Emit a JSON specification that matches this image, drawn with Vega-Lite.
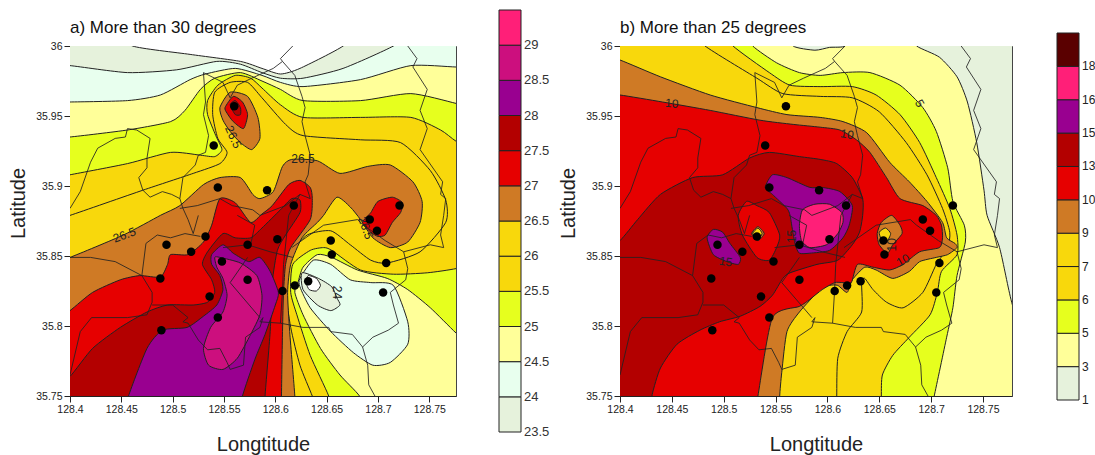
{"$schema":"https://vega.github.io/schema/vega-lite/v6.json","background":"white","padding":{"left":7,"top":9,"right":0,"bottom":0},"resolve":{"scale":{"fill":"independent"}},"hconcat":[
{"width":386,"height":350,"title":{"text":"a) More than 30 degrees","anchor":"start","frame":"group","offset":4,"fontSize":17,"fontWeight":"normal","font":"Liberation Sans","color":"#111"},
"layer":[
{"data":{"name":"panelA"},"mark":{"type":"line","stroke":"#222","strokeWidth":1,"interpolate":"cardinal-closed","tension":0.35,"clip":true},"encoding":{"x":{"field":"lon","type":"quantitative","scale":{"domain":[128.4,128.776],"nice":false,"zero":false},"axis":{"values":[128.4,128.45,128.5,128.55,128.6,128.65,128.7,128.75],"format":".2~f","title":"Longtitude","titleFontSize":20,"titleFontWeight":"normal","titleFont":"Liberation Sans","titleColor":"#222","titlePadding":20,"labelFont":"Liberation Sans","labelFontSize":10.5,"labelColor":"#222","grid":false,"tickSize":6,"tickColor":"#222","domainColor":"#222","labelOverlap":false,"labelFlush":false}},"y":{"field":"lat","type":"quantitative","scale":{"domain":[35.75,36],"nice":false,"zero":false},"axis":{"values":[35.75,35.8,35.85,35.9,35.95,36],"format":".2~f","title":"Latitude","titleFontSize":20,"titleFontWeight":"normal","titleFont":"Liberation Sans","titleColor":"#222","titleX":-42,"titleY":157,"labelFont":"Liberation Sans","labelFontSize":10.5,"labelColor":"#222","grid":false,"tickSize":6,"tickColor":"#222","domainColor":"#222","labelOverlap":false,"labelFlush":false}},"order":{"value":null},"fill":{"field":"poly","type":"nominal","legend":null,"scale":{"domain":["base","le26","le25.5n","le25.5s","le25n","le25s","le24.5n","le24.5s","le24n","le24s","le23.5n","le23.5s","ge26.5","ge27","ge27.5","ge28","ge28.5","peak26.5","peak27","peak27.5","lobe27"],"range":["#F8D80C","#F8D80C","#E6FF1E","#E6FF1E","#FFFF99","#FFFF99","#E8FFEE","#E8FFEE","#E6F2DC","#E6F2DC","#FFFFFF","#FFFFFF","#CF7A25","#E60000","#B30000","#990090","#CC0F7E","#CF7A25","#E60000","#B30000","#E60000"]}}}},
{"data":{"name":"districts"},"mark":{"type":"line","stroke":"#222","strokeWidth":1,"clip":true,"opacity":0.85},"encoding":{"x":{"field":"lon","type":"quantitative"},"y":{"field":"lat","type":"quantitative"},"order":{"value":null},"detail":{"field":"d"}}},
{"data":{"name":"labelsA"},"mark":{"type":"text","font":"Liberation Sans","fontSize":12,"color":"#222"},"encoding":{"x":{"field":"lon","type":"quantitative"},"y":{"field":"lat","type":"quantitative"},"text":{"field":"text"},"angle":{"field":"slope","type":"quantitative","scale":null}}},
{"data":{"name":"stations"},"mark":{"type":"circle","size":72,"color":"#000","opacity":1},"encoding":{"x":{"field":"lon","type":"quantitative"},"y":{"field":"lat","type":"quantitative"}}}
]},
{"width":164,"height":350,"view":{"stroke":null},"data":{"name":"legendA"},"layer":[
{"mark":{"type":"rect","stroke":"#222","strokeWidth":1},"encoding":{"y":{"field":"rank","type":"quantitative","axis":null,"scale":{"domain":[0,12],"range":[386,-36],"nice":false,"zero":false}},"y2":{"field":"rank2"},"x":{"datum":0,"type":"quantitative","axis":null,"scale":{"domain":[0,1],"range":[43,65]}},"x2":{"datum":1},"fill":{"field":"band","type":"nominal","legend":null,"sort":null,"scale":{"domain":["23.5-24","24-24.5","24.5-25","25-25.5","25.5-26","26-26.5","26.5-27","27-27.5","27.5-28","28-28.5","28.5-29","29+"],"range":["#E6F2DC","#E8FFEE","#FFFF99","#E6FF1E","#F8D80C","#F8D80C","#CF7A25","#E60000","#B30000","#990090","#CC0F7E","#FF1F78"]}}}},
{"mark":{"type":"text","align":"left","dx":3,"font":"Liberation Sans","fontSize":13,"color":"#333"},"encoding":{"y":{"field":"rank","type":"quantitative","axis":null},"x":{"datum":1,"type":"quantitative","axis":null},"text":{"field":"label"}}}
]},
{"width":392,"height":350,"title":{"text":"b) More than 25 degrees","anchor":"start","frame":"group","offset":4,"fontSize":17,"fontWeight":"normal","font":"Liberation Sans","color":"#111"},
"layer":[
{"data":{"name":"panelB"},"mark":{"type":"line","stroke":"#222","strokeWidth":1,"interpolate":"cardinal-closed","tension":0.35,"clip":true},"encoding":{"x":{"field":"lon","type":"quantitative","scale":{"domain":[128.4,128.778],"nice":false,"zero":false},"axis":{"values":[128.4,128.45,128.5,128.55,128.6,128.65,128.7,128.75],"format":".2~f","title":"Longtitude","titleFontSize":20,"titleFontWeight":"normal","titleFont":"Liberation Sans","titleColor":"#222","titlePadding":20,"labelFont":"Liberation Sans","labelFontSize":10.5,"labelColor":"#222","grid":false,"tickSize":6,"tickColor":"#222","domainColor":"#222","labelOverlap":false,"labelFlush":false}},"y":{"field":"lat","type":"quantitative","scale":{"domain":[35.75,36],"nice":false,"zero":false},"axis":{"values":[35.75,35.8,35.85,35.9,35.95,36],"format":".2~f","title":"Latitude","titleFontSize":20,"titleFontWeight":"normal","titleFont":"Liberation Sans","titleColor":"#222","titleX":-42,"titleY":157,"labelFont":"Liberation Sans","labelFontSize":10.5,"labelColor":"#222","grid":false,"tickSize":6,"tickColor":"#222","domainColor":"#222","labelOverlap":false,"labelFlush":false}},"order":{"value":null},"fill":{"field":"poly","type":"nominal","legend":null,"scale":{"domain":["base","top1","ge3","ge5","ge6","ge7","ge9","ge10","ge13","red west","ring west","core west","ring east","core east","ge15","ge16","ge15 west"],"range":["#E6F2DC","#E6F2DC","#FFFF99","#E6FF1E","#F8D80C","#F8D80C","#CF7A25","#E60000","#B30000","#E60000","#CF7A25","#F8D80C","#CF7A25","#F8D80C","#990090","#FF1F78","#990090"]}}}},
{"data":{"name":"districts"},"mark":{"type":"line","stroke":"#222","strokeWidth":1,"clip":true,"opacity":0.85},"encoding":{"x":{"field":"lon","type":"quantitative"},"y":{"field":"lat","type":"quantitative"},"order":{"value":null},"detail":{"field":"d"}}},
{"data":{"name":"labelsB"},"mark":{"type":"text","font":"Liberation Sans","fontSize":12,"color":"#222"},"encoding":{"x":{"field":"lon","type":"quantitative"},"y":{"field":"lat","type":"quantitative"},"text":{"field":"text"},"angle":{"field":"slope","type":"quantitative","scale":null}}},
{"data":{"name":"stations"},"mark":{"type":"circle","size":72,"color":"#000","opacity":1},"encoding":{"x":{"field":"lon","type":"quantitative"},"y":{"field":"lat","type":"quantitative"}}}
]},
{"width":83,"height":350,"view":{"stroke":null},"data":{"name":"legendB"},"layer":[
{"mark":{"type":"rect","stroke":"#222","strokeWidth":1},"encoding":{"y":{"field":"rank","type":"quantitative","axis":null,"scale":{"domain":[0,11],"range":[354,-13],"nice":false,"zero":false}},"y2":{"field":"rank2"},"x":{"datum":0,"type":"quantitative","axis":null,"scale":{"domain":[0,1],"range":[45,67]}},"x2":{"datum":1},"fill":{"field":"band","type":"nominal","legend":null,"sort":null,"scale":{"domain":["1-3","3-5","5-6","6-7","7-9","9-10","10-13","13-15","15-16","16-18","18+"],"range":["#E6F2DC","#FFFF99","#E6FF1E","#F8D80C","#F8D80C","#CF7A25","#E60000","#B30000","#990090","#FF1F78","#5A0000"]}}}},
{"mark":{"type":"text","align":"left","dx":3,"font":"Liberation Sans","fontSize":12,"color":"#222"},"encoding":{"y":{"field":"rank","type":"quantitative","axis":null},"x":{"datum":1,"type":"quantitative","axis":null},"text":{"field":"label"}}}
]}
],"bounds":"flush","spacing":0,"align":"none","config":{"view":{"stroke":"#444"}},
"datasets":{
"legendA":[{"rank":0,"rank2":1,"band":"23.5-24","label":"23.5"},{"rank":1,"rank2":2,"band":"24-24.5","label":"24"},{"rank":2,"rank2":3,"band":"24.5-25","label":"24.5"},{"rank":3,"rank2":4,"band":"25-25.5","label":"25"},{"rank":4,"rank2":5,"band":"25.5-26","label":"25.5"},{"rank":5,"rank2":6,"band":"26-26.5","label":"26"},{"rank":6,"rank2":7,"band":"26.5-27","label":"26.5"},{"rank":7,"rank2":8,"band":"27-27.5","label":"27"},{"rank":8,"rank2":9,"band":"27.5-28","label":"27.5"},{"rank":9,"rank2":10,"band":"28-28.5","label":"28"},{"rank":10,"rank2":11,"band":"28.5-29","label":"28.5"},{"rank":11,"rank2":12,"band":"29+","label":"29"}],
"legendB":[{"rank":0,"rank2":1,"band":"1-3","label":"1"},{"rank":1,"rank2":2,"band":"3-5","label":"3"},{"rank":2,"rank2":3,"band":"5-6","label":"5"},{"rank":3,"rank2":4,"band":"6-7","label":"6"},{"rank":4,"rank2":5,"band":"7-9","label":"7"},{"rank":5,"rank2":6,"band":"9-10","label":"9"},{"rank":6,"rank2":7,"band":"10-13","label":"10"},{"rank":7,"rank2":8,"band":"13-15","label":"13"},{"rank":8,"rank2":9,"band":"15-16","label":"15"},{"rank":9,"rank2":10,"band":"16-18","label":"16"},{"rank":10,"rank2":11,"band":"18+","label":"18"}],
"labelsA":[{"lon":128.559,"lat":35.935,"text":"26.5","slope":65},{"lon":128.627,"lat":35.919,"text":"26.5","slope":0},{"lon":128.453,"lat":35.865,"text":"26.5","slope":-20},{"lon":128.688,"lat":35.87,"text":"26.5","slope":70},{"lon":128.66,"lat":35.824,"text":"24","slope":90}],
"labelsB":[{"lon":128.45,"lat":35.959,"text":"10","slope":5},{"lon":128.619,"lat":35.937,"text":"10","slope":10},{"lon":128.689,"lat":35.959,"text":"5","slope":60},{"lon":128.502,"lat":35.846,"text":"15","slope":10},{"lon":128.566,"lat":35.864,"text":"15","slope":-90},{"lon":128.673,"lat":35.847,"text":"10","slope":-30},{"lon":128.662,"lat":35.858,"text":"10","slope":-90}],
"stations":[{"lon":128.56,"lat":35.957},{"lon":128.54,"lat":35.929},{"lon":128.544,"lat":35.899},{"lon":128.592,"lat":35.897},{"lon":128.618,"lat":35.886},{"lon":128.721,"lat":35.886},{"lon":128.692,"lat":35.876},{"lon":128.699,"lat":35.868},{"lon":128.532,"lat":35.864},{"lon":128.573,"lat":35.858},{"lon":128.602,"lat":35.862},{"lon":128.494,"lat":35.858},{"lon":128.518,"lat":35.853},{"lon":128.548,"lat":35.846},{"lon":128.488,"lat":35.834},{"lon":128.573,"lat":35.833},{"lon":128.536,"lat":35.821},{"lon":128.544,"lat":35.806},{"lon":128.489,"lat":35.797},{"lon":128.607,"lat":35.825},{"lon":128.619,"lat":35.829},{"lon":128.632,"lat":35.832},{"lon":128.654,"lat":35.861},{"lon":128.655,"lat":35.851},{"lon":128.708,"lat":35.845},{"lon":128.705,"lat":35.824}],
"districts":[
{"d":1,"lon":128.4,"lat":35.884},{"d":1,"lon":128.41,"lat":35.896},{"d":1,"lon":128.42,"lat":35.917},{"d":1,"lon":128.427,"lat":35.927},{"d":1,"lon":128.444,"lat":35.934},{"d":1,"lon":128.454,"lat":35.935},{"d":1,"lon":128.456,"lat":35.941},{"d":1,"lon":128.465,"lat":35.94},{"d":1,"lon":128.478,"lat":35.934},{"d":1,"lon":128.475,"lat":35.92},{"d":1,"lon":128.475,"lat":35.913},{"d":1,"lon":128.467,"lat":35.906},{"d":1,"lon":128.471,"lat":35.897},{"d":1,"lon":128.478,"lat":35.892},{"d":1,"lon":128.49,"lat":35.896},{"d":1,"lon":128.499,"lat":35.894},{"d":1,"lon":128.507,"lat":35.891},{"d":1,"lon":128.51,"lat":35.884},{"d":1,"lon":128.515,"lat":35.876},{"d":1,"lon":128.52,"lat":35.866},
{"d":2,"lon":128.53,"lat":35.981},{"d":2,"lon":128.532,"lat":35.96},{"d":2,"lon":128.53,"lat":35.951},{"d":2,"lon":128.535,"lat":35.936},{"d":2,"lon":128.532,"lat":35.924},{"d":2,"lon":128.525,"lat":35.922},{"d":2,"lon":128.522,"lat":35.915},{"d":2,"lon":128.51,"lat":35.906},{"d":2,"lon":128.507,"lat":35.891},
{"d":3,"lon":128.53,"lat":35.981},{"d":3,"lon":128.549,"lat":35.974},{"d":3,"lon":128.556,"lat":35.963},{"d":3,"lon":128.563,"lat":35.972},{"d":3,"lon":128.577,"lat":35.977},{"d":3,"lon":128.598,"lat":35.984},{"d":3,"lon":128.607,"lat":35.989},{"d":3,"lon":128.605,"lat":35.991},{"d":3,"lon":128.617,"lat":36},
{"d":4,"lon":128.607,"lat":35.989},{"d":4,"lon":128.619,"lat":35.979},{"d":4,"lon":128.626,"lat":35.964},{"d":4,"lon":128.629,"lat":35.956},{"d":4,"lon":128.626,"lat":35.946},{"d":4,"lon":128.629,"lat":35.936},{"d":4,"lon":128.634,"lat":35.922},{"d":4,"lon":128.632,"lat":35.908},{"d":4,"lon":128.629,"lat":35.903},{"d":4,"lon":128.634,"lat":35.891},{"d":4,"lon":128.624,"lat":35.894},{"d":4,"lon":128.613,"lat":35.879},{"d":4,"lon":128.608,"lat":35.844},{"d":4,"lon":128.607,"lat":35.826},{"d":4,"lon":128.605,"lat":35.802},
{"d":5,"lon":128.729,"lat":36},{"d":5,"lon":128.738,"lat":35.991},{"d":5,"lon":128.734,"lat":35.985},{"d":5,"lon":128.748,"lat":35.969},{"d":5,"lon":128.741,"lat":35.954},{"d":5,"lon":128.748,"lat":35.941},{"d":5,"lon":128.741,"lat":35.926},{"d":5,"lon":128.763,"lat":35.903},{"d":5,"lon":128.761,"lat":35.894},{"d":5,"lon":128.766,"lat":35.891},{"d":5,"lon":128.764,"lat":35.879},{"d":5,"lon":128.761,"lat":35.865},{"d":5,"lon":128.764,"lat":35.856},{"d":5,"lon":128.751,"lat":35.858},{"d":5,"lon":128.725,"lat":35.853},{"d":5,"lon":128.729,"lat":35.841},{"d":5,"lon":128.727,"lat":35.833},{"d":5,"lon":128.712,"lat":35.824},{"d":5,"lon":128.715,"lat":35.815},{"d":5,"lon":128.72,"lat":35.802},{"d":5,"lon":128.71,"lat":35.797},{"d":5,"lon":128.695,"lat":35.792},{"d":5,"lon":128.685,"lat":35.785},{"d":5,"lon":128.675,"lat":35.794},{"d":5,"lon":128.654,"lat":35.796},{"d":5,"lon":128.652,"lat":35.799},{"d":5,"lon":128.627,"lat":35.799},{"d":5,"lon":128.605,"lat":35.802},{"d":5,"lon":128.585,"lat":35.803},
{"d":6,"lon":128.685,"lat":35.785},{"d":6,"lon":128.69,"lat":35.772},{"d":6,"lon":128.691,"lat":35.758},{"d":6,"lon":128.697,"lat":35.75},
{"d":7,"lon":128.4,"lat":35.765},{"d":7,"lon":128.41,"lat":35.796},{"d":7,"lon":128.421,"lat":35.806},{"d":7,"lon":128.456,"lat":35.806},{"d":7,"lon":128.475,"lat":35.808},{"d":7,"lon":128.48,"lat":35.817},{"d":7,"lon":128.48,"lat":35.824},{"d":7,"lon":128.47,"lat":35.836},{"d":7,"lon":128.444,"lat":35.846},{"d":7,"lon":128.42,"lat":35.849},{"d":7,"lon":128.4,"lat":35.849},
{"d":8,"lon":128.47,"lat":35.836},{"d":8,"lon":128.474,"lat":35.859},{"d":8,"lon":128.485,"lat":35.865},{"d":8,"lon":128.498,"lat":35.863},{"d":8,"lon":128.512,"lat":35.866},{"d":8,"lon":128.527,"lat":35.864},
{"d":9,"lon":128.52,"lat":35.866},{"d":9,"lon":128.525,"lat":35.879},
{"d":10,"lon":128.48,"lat":35.815},{"d":10,"lon":128.5,"lat":35.815},{"d":10,"lon":128.515,"lat":35.806},{"d":10,"lon":128.51,"lat":35.803},{"d":10,"lon":128.515,"lat":35.802},{"d":10,"lon":128.525,"lat":35.79},{"d":10,"lon":128.534,"lat":35.783},{"d":10,"lon":128.546,"lat":35.784},{"d":10,"lon":128.553,"lat":35.774},{"d":10,"lon":128.556,"lat":35.769},{"d":10,"lon":128.569,"lat":35.772},{"d":10,"lon":128.571,"lat":35.792},{"d":10,"lon":128.585,"lat":35.799},{"d":10,"lon":128.588,"lat":35.806},{"d":10,"lon":128.585,"lat":35.803},
{"d":11,"lon":128.573,"lat":35.849},{"d":11,"lon":128.556,"lat":35.831},{"d":11,"lon":128.585,"lat":35.806},
{"d":12,"lon":128.549,"lat":35.856},{"d":12,"lon":128.573,"lat":35.858},{"d":12,"lon":128.595,"lat":35.853},{"d":12,"lon":128.617,"lat":35.849},
{"d":13,"lon":128.563,"lat":35.879},{"d":13,"lon":128.58,"lat":35.872},{"d":13,"lon":128.576,"lat":35.858},
{"d":14,"lon":128.507,"lat":35.884},{"d":14,"lon":128.524,"lat":35.886},{"d":14,"lon":128.546,"lat":35.891},{"d":14,"lon":128.558,"lat":35.886},{"d":14,"lon":128.578,"lat":35.883},{"d":14,"lon":128.585,"lat":35.879},{"d":14,"lon":128.61,"lat":35.886},{"d":14,"lon":128.624,"lat":35.894},
{"d":15,"lon":128.616,"lat":35.856},{"d":15,"lon":128.647,"lat":35.872},{"d":15,"lon":128.68,"lat":35.876},{"d":15,"lon":128.686,"lat":35.872},{"d":15,"lon":128.707,"lat":35.861},{"d":15,"lon":128.725,"lat":35.853}
],
"panelA":[
{"poly":"base","lon":128.38,"lat":36.018},{"poly":"base","lon":128.81,"lat":36.018},{"poly":"base","lon":128.81,"lat":35.73},{"poly":"base","lon":128.38,"lat":35.73},
{"poly":"le26","lon":128.385,"lat":35.876},{"poly":"le26","lon":128.4,"lat":35.879},{"poly":"le26","lon":128.471,"lat":35.897},{"poly":"le26","lon":128.52,"lat":35.909},{"poly":"le26","lon":128.546,"lat":35.916},{"poly":"le26","lon":128.553,"lat":35.924},{"poly":"le26","lon":128.544,"lat":35.934},{"poly":"le26","lon":128.539,"lat":35.951},{"poly":"le26","lon":128.541,"lat":35.967},{"poly":"le26","lon":128.556,"lat":35.974},{"poly":"le26","lon":128.573,"lat":35.974},{"poly":"le26","lon":128.587,"lat":35.963},{"poly":"le26","lon":128.61,"lat":35.944},{"poly":"le26","lon":128.627,"lat":35.936},{"poly":"le26","lon":128.683,"lat":35.933},{"poly":"le26","lon":128.722,"lat":35.931},{"poly":"le26","lon":128.751,"lat":35.911},{"poly":"le26","lon":128.766,"lat":35.89},{"poly":"le26","lon":128.766,"lat":35.874},{"poly":"le26","lon":128.741,"lat":35.853},{"poly":"le26","lon":128.709,"lat":35.845},{"poly":"le26","lon":128.693,"lat":35.847},{"poly":"le26","lon":128.673,"lat":35.858},{"poly":"le26","lon":128.654,"lat":35.868},{"poly":"le26","lon":128.631,"lat":35.865},{"poly":"le26","lon":128.615,"lat":35.851},{"poly":"le26","lon":128.61,"lat":35.827},{"poly":"le26","lon":128.615,"lat":35.799},{"poly":"le26","lon":128.624,"lat":35.772},{"poly":"le26","lon":128.636,"lat":35.75},{"poly":"le26","lon":128.642,"lat":35.737},{"poly":"le26","lon":128.8,"lat":35.737},{"poly":"le26","lon":128.8,"lat":36.011},{"poly":"le26","lon":128.385,"lat":36.011},
{"poly":"le25.5n","lon":128.385,"lat":35.906},{"poly":"le25.5n","lon":128.4,"lat":35.908},{"poly":"le25.5n","lon":128.456,"lat":35.916},{"poly":"le25.5n","lon":128.498,"lat":35.924},{"poly":"le25.5n","lon":128.527,"lat":35.922},{"poly":"le25.5n","lon":128.541,"lat":35.921},{"poly":"le25.5n","lon":128.548,"lat":35.926},{"poly":"le25.5n","lon":128.542,"lat":35.936},{"poly":"le25.5n","lon":128.534,"lat":35.951},{"poly":"le25.5n","lon":128.534,"lat":35.961},{"poly":"le25.5n","lon":128.544,"lat":35.972},{"poly":"le25.5n","lon":128.561,"lat":35.979},{"poly":"le25.5n","lon":128.576,"lat":35.977},{"poly":"le25.5n","lon":128.587,"lat":35.97},{"poly":"le25.5n","lon":128.605,"lat":35.958},{"poly":"le25.5n","lon":128.627,"lat":35.949},{"poly":"le25.5n","lon":128.683,"lat":35.949},{"poly":"le25.5n","lon":128.732,"lat":35.949},{"poly":"le25.5n","lon":128.761,"lat":35.94},{"poly":"le25.5n","lon":128.776,"lat":35.932},{"poly":"le25.5n","lon":128.8,"lat":35.922},{"poly":"le25.5n","lon":128.8,"lat":36.011},{"poly":"le25.5n","lon":128.385,"lat":36.011},
{"poly":"le25.5s","lon":128.652,"lat":35.75},{"poly":"le25.5s","lon":128.634,"lat":35.779},{"poly":"le25.5s","lon":128.621,"lat":35.808},{"poly":"le25.5s","lon":128.615,"lat":35.824},{"poly":"le25.5s","lon":128.617,"lat":35.844},{"poly":"le25.5s","lon":128.634,"lat":35.854},{"poly":"le25.5s","lon":128.647,"lat":35.856},{"poly":"le25.5s","lon":128.655,"lat":35.854},{"poly":"le25.5s","lon":128.683,"lat":35.84},{"poly":"le25.5s","lon":128.715,"lat":35.837},{"poly":"le25.5s","lon":128.748,"lat":35.838},{"poly":"le25.5s","lon":128.776,"lat":35.841},{"poly":"le25.5s","lon":128.8,"lat":35.846},{"poly":"le25.5s","lon":128.8,"lat":35.737},{"poly":"le25.5s","lon":128.655,"lat":35.737},
{"poly":"le25n","lon":128.385,"lat":35.935},{"poly":"le25n","lon":128.4,"lat":35.935},{"poly":"le25n","lon":128.456,"lat":35.94},{"poly":"le25n","lon":128.498,"lat":35.946},{"poly":"le25n","lon":128.512,"lat":35.954},{"poly":"le25n","lon":128.527,"lat":35.969},{"poly":"le25n","lon":128.541,"lat":35.977},{"poly":"le25n","lon":128.566,"lat":35.981},{"poly":"le25n","lon":128.587,"lat":35.975},{"poly":"le25n","lon":128.605,"lat":35.969},{"poly":"le25n","lon":128.627,"lat":35.961},{"poly":"le25n","lon":128.683,"lat":35.961},{"poly":"le25n","lon":128.732,"lat":35.966},{"poly":"le25n","lon":128.776,"lat":35.959},{"poly":"le25n","lon":128.8,"lat":35.954},{"poly":"le25n","lon":128.8,"lat":36.011},{"poly":"le25n","lon":128.385,"lat":36.011},
{"poly":"le25s","lon":128.682,"lat":35.75},{"poly":"le25s","lon":128.663,"lat":35.765},{"poly":"le25s","lon":128.644,"lat":35.784},{"poly":"le25s","lon":128.627,"lat":35.808},{"poly":"le25s","lon":128.619,"lat":35.824},{"poly":"le25s","lon":128.622,"lat":35.831},{"poly":"le25s","lon":128.627,"lat":35.842},{"poly":"le25s","lon":128.641,"lat":35.851},{"poly":"le25s","lon":128.655,"lat":35.849},{"poly":"le25s","lon":128.68,"lat":35.84},{"poly":"le25s","lon":128.709,"lat":35.834},{"poly":"le25s","lon":128.729,"lat":35.826},{"poly":"le25s","lon":128.751,"lat":35.813},{"poly":"le25s","lon":128.776,"lat":35.795},{"poly":"le25s","lon":128.8,"lat":35.779},{"poly":"le25s","lon":128.8,"lat":35.737},{"poly":"le25s","lon":128.688,"lat":35.737},
{"poly":"le24.5n","lon":128.385,"lat":35.96},{"poly":"le24.5n","lon":128.4,"lat":35.96},{"poly":"le24.5n","lon":128.456,"lat":35.961},{"poly":"le24.5n","lon":128.488,"lat":35.965},{"poly":"le24.5n","lon":128.517,"lat":35.976},{"poly":"le24.5n","lon":128.532,"lat":35.98},{"poly":"le24.5n","lon":128.561,"lat":35.984},{"poly":"le24.5n","lon":128.587,"lat":35.979},{"poly":"le24.5n","lon":128.605,"lat":35.974},{"poly":"le24.5n","lon":128.627,"lat":35.971},{"poly":"le24.5n","lon":128.683,"lat":35.976},{"poly":"le24.5n","lon":128.732,"lat":35.986},{"poly":"le24.5n","lon":128.776,"lat":35.985},{"poly":"le24.5n","lon":128.8,"lat":35.985},{"poly":"le24.5n","lon":128.8,"lat":36.011},{"poly":"le24.5n","lon":128.385,"lat":36.011},
{"poly":"le24.5s","lon":128.624,"lat":35.834},{"poly":"le24.5s","lon":128.637,"lat":35.847},{"poly":"le24.5s","lon":128.654,"lat":35.844},{"poly":"le24.5s","lon":128.673,"lat":35.833},{"poly":"le24.5s","lon":128.693,"lat":35.831},{"poly":"le24.5s","lon":128.715,"lat":35.829},{"poly":"le24.5s","lon":128.729,"lat":35.803},{"poly":"le24.5s","lon":128.729,"lat":35.787},{"poly":"le24.5s","lon":128.712,"lat":35.774},{"poly":"le24.5s","lon":128.695,"lat":35.772},{"poly":"le24.5s","lon":128.676,"lat":35.781},{"poly":"le24.5s","lon":128.654,"lat":35.796},{"poly":"le24.5s","lon":128.634,"lat":35.813},{"poly":"le24.5s","lon":128.624,"lat":35.828},
{"poly":"le24n","lon":128.385,"lat":35.986},{"poly":"le24n","lon":128.4,"lat":35.986},{"poly":"le24n","lon":128.456,"lat":35.981},{"poly":"le24n","lon":128.504,"lat":35.983},{"poly":"le24n","lon":128.543,"lat":35.989},{"poly":"le24n","lon":128.566,"lat":35.987},{"poly":"le24n","lon":128.587,"lat":35.981},{"poly":"le24n","lon":128.605,"lat":35.977},{"poly":"le24n","lon":128.627,"lat":35.977},{"poly":"le24n","lon":128.666,"lat":35.984},{"poly":"le24n","lon":128.715,"lat":36},{"poly":"le24n","lon":128.732,"lat":36.011},{"poly":"le24n","lon":128.385,"lat":36.011},
{"poly":"le24s","lon":128.626,"lat":35.838},{"poly":"le24s","lon":128.642,"lat":35.834},{"poly":"le24s","lon":128.655,"lat":35.828},{"poly":"le24s","lon":128.66,"lat":35.82},{"poly":"le24s","lon":128.663,"lat":35.815},{"poly":"le24s","lon":128.654,"lat":35.811},{"poly":"le24s","lon":128.641,"lat":35.815},{"poly":"le24s","lon":128.627,"lat":35.826},
{"poly":"le23.5n","lon":128.461,"lat":36},{"poly":"le23.5n","lon":128.517,"lat":35.994},{"poly":"le23.5n","lon":128.566,"lat":35.989},{"poly":"le23.5n","lon":128.587,"lat":35.984},{"poly":"le23.5n","lon":128.605,"lat":35.98},{"poly":"le23.5n","lon":128.624,"lat":35.984},{"poly":"le23.5n","lon":128.666,"lat":36},{"poly":"le23.5n","lon":128.673,"lat":36.011},{"poly":"le23.5n","lon":128.454,"lat":36.011},
{"poly":"le23.5s","lon":128.632,"lat":35.836},{"poly":"le23.5s","lon":128.64,"lat":35.834},{"poly":"le23.5s","lon":128.644,"lat":35.829},{"poly":"le23.5s","lon":128.64,"lat":35.825},{"poly":"le23.5s","lon":128.633,"lat":35.826},{"poly":"le23.5s","lon":128.63,"lat":35.831},
{"poly":"ge26.5","lon":128.619,"lat":35.75},{"poly":"ge26.5","lon":128.614,"lat":35.796},{"poly":"ge26.5","lon":128.612,"lat":35.824},{"poly":"ge26.5","lon":128.615,"lat":35.844},{"poly":"ge26.5","lon":128.626,"lat":35.863},{"poly":"ge26.5","lon":128.641,"lat":35.874},{"poly":"ge26.5","lon":128.647,"lat":35.879},{"poly":"ge26.5","lon":128.66,"lat":35.892},{"poly":"ge26.5","lon":128.673,"lat":35.885},{"poly":"ge26.5","lon":128.683,"lat":35.876},{"poly":"ge26.5","lon":128.695,"lat":35.863},{"poly":"ge26.5","lon":128.712,"lat":35.856},{"poly":"ge26.5","lon":128.729,"lat":35.86},{"poly":"ge26.5","lon":128.741,"lat":35.874},{"poly":"ge26.5","lon":128.743,"lat":35.889},{"poly":"ge26.5","lon":128.734,"lat":35.903},{"poly":"ge26.5","lon":128.712,"lat":35.915},{"poly":"ge26.5","lon":128.69,"lat":35.914},{"poly":"ge26.5","lon":128.663,"lat":35.909},{"poly":"ge26.5","lon":128.641,"lat":35.918},{"poly":"ge26.5","lon":128.616,"lat":35.919},{"poly":"ge26.5","lon":128.607,"lat":35.914},{"poly":"ge26.5","lon":128.598,"lat":35.896},{"poly":"ge26.5","lon":128.585,"lat":35.891},{"poly":"ge26.5","lon":128.578,"lat":35.894},{"poly":"ge26.5","lon":128.566,"lat":35.906},{"poly":"ge26.5","lon":128.546,"lat":35.906},{"poly":"ge26.5","lon":128.53,"lat":35.901},{"poly":"ge26.5","lon":128.507,"lat":35.886},{"poly":"ge26.5","lon":128.488,"lat":35.879},{"poly":"ge26.5","lon":128.452,"lat":35.865},{"poly":"ge26.5","lon":128.4,"lat":35.849},{"poly":"ge26.5","lon":128.385,"lat":35.846},{"poly":"ge26.5","lon":128.385,"lat":35.737},{"poly":"ge26.5","lon":128.619,"lat":35.737},
{"poly":"ge27","lon":128.385,"lat":35.804},{"poly":"ge27","lon":128.4,"lat":35.811},{"poly":"ge27","lon":128.422,"lat":35.824},{"poly":"ge27","lon":128.449,"lat":35.833},{"poly":"ge27","lon":128.468,"lat":35.836},{"poly":"ge27","lon":128.488,"lat":35.835},{"poly":"ge27","lon":128.495,"lat":35.844},{"poly":"ge27","lon":128.498,"lat":35.851},{"poly":"ge27","lon":128.515,"lat":35.851},{"poly":"ge27","lon":128.53,"lat":35.86},{"poly":"ge27","lon":128.538,"lat":35.872},{"poly":"ge27","lon":128.546,"lat":35.891},{"poly":"ge27","lon":128.561,"lat":35.888},{"poly":"ge27","lon":128.576,"lat":35.874},{"poly":"ge27","lon":128.587,"lat":35.88},{"poly":"ge27","lon":128.597,"lat":35.886},{"poly":"ge27","lon":128.613,"lat":35.901},{"poly":"ge27","lon":128.624,"lat":35.904},{"poly":"ge27","lon":128.634,"lat":35.899},{"poly":"ge27","lon":128.636,"lat":35.891},{"poly":"ge27","lon":128.634,"lat":35.876},{"poly":"ge27","lon":128.615,"lat":35.856},{"poly":"ge27","lon":128.61,"lat":35.844},{"poly":"ge27","lon":128.608,"lat":35.824},{"poly":"ge27","lon":128.607,"lat":35.796},{"poly":"ge27","lon":128.606,"lat":35.75},{"poly":"ge27","lon":128.606,"lat":35.737},{"poly":"ge27","lon":128.385,"lat":35.737},
{"poly":"ge27.5","lon":128.385,"lat":35.758},{"poly":"ge27.5","lon":128.4,"lat":35.764},{"poly":"ge27.5","lon":128.422,"lat":35.784},{"poly":"ge27.5","lon":128.449,"lat":35.799},{"poly":"ge27.5","lon":128.475,"lat":35.81},{"poly":"ge27.5","lon":128.495,"lat":35.815},{"poly":"ge27.5","lon":128.52,"lat":35.815},{"poly":"ge27.5","lon":128.534,"lat":35.817},{"poly":"ge27.5","lon":128.541,"lat":35.824},{"poly":"ge27.5","lon":128.538,"lat":35.833},{"poly":"ge27.5","lon":128.529,"lat":35.844},{"poly":"ge27.5","lon":128.534,"lat":35.853},{"poly":"ge27.5","lon":128.549,"lat":35.866},{"poly":"ge27.5","lon":128.561,"lat":35.863},{"poly":"ge27.5","lon":128.576,"lat":35.863},{"poly":"ge27.5","lon":128.587,"lat":35.87},{"poly":"ge27.5","lon":128.605,"lat":35.883},{"poly":"ge27.5","lon":128.616,"lat":35.891},{"poly":"ge27.5","lon":128.624,"lat":35.89},{"poly":"ge27.5","lon":128.624,"lat":35.881},{"poly":"ge27.5","lon":128.61,"lat":35.865},{"poly":"ge27.5","lon":128.602,"lat":35.854},{"poly":"ge27.5","lon":128.597,"lat":35.831},{"poly":"ge27.5","lon":128.595,"lat":35.796},{"poly":"ge27.5","lon":128.59,"lat":35.75},{"poly":"ge27.5","lon":128.59,"lat":35.737},{"poly":"ge27.5","lon":128.385,"lat":35.737},
{"poly":"ge28","lon":128.457,"lat":35.75},{"poly":"ge28","lon":128.475,"lat":35.784},{"poly":"ge28","lon":128.49,"lat":35.797},{"poly":"ge28","lon":128.514,"lat":35.799},{"poly":"ge28","lon":128.53,"lat":35.807},{"poly":"ge28","lon":128.543,"lat":35.815},{"poly":"ge28","lon":128.549,"lat":35.826},{"poly":"ge28","lon":128.546,"lat":35.836},{"poly":"ge28","lon":128.538,"lat":35.844},{"poly":"ge28","lon":128.538,"lat":35.851},{"poly":"ge28","lon":128.549,"lat":35.858},{"poly":"ge28","lon":128.559,"lat":35.852},{"poly":"ge28","lon":128.574,"lat":35.846},{"poly":"ge28","lon":128.585,"lat":35.849},{"poly":"ge28","lon":128.595,"lat":35.839},{"poly":"ge28","lon":128.603,"lat":35.824},{"poly":"ge28","lon":128.6,"lat":35.815},{"poly":"ge28","lon":128.59,"lat":35.794},{"poly":"ge28","lon":128.58,"lat":35.776},{"poly":"ge28","lon":128.568,"lat":35.75},{"poly":"ge28","lon":128.566,"lat":35.737},{"poly":"ge28","lon":128.454,"lat":35.737},
{"poly":"ge28.5","lon":128.546,"lat":35.849},{"poly":"ge28.5","lon":128.566,"lat":35.845},{"poly":"ge28.5","lon":128.582,"lat":35.836},{"poly":"ge28.5","lon":128.587,"lat":35.822},{"poly":"ge28.5","lon":128.585,"lat":35.808},{"poly":"ge28.5","lon":128.576,"lat":35.794},{"poly":"ge28.5","lon":128.563,"lat":35.777},{"poly":"ge28.5","lon":128.549,"lat":35.769},{"poly":"ge28.5","lon":128.535,"lat":35.772},{"poly":"ge28.5","lon":128.53,"lat":35.784},{"poly":"ge28.5","lon":128.537,"lat":35.799},{"poly":"ge28.5","lon":128.549,"lat":35.81},{"poly":"ge28.5","lon":128.553,"lat":35.822},{"poly":"ge28.5","lon":128.549,"lat":35.834},{"poly":"ge28.5","lon":128.543,"lat":35.842},{"poly":"ge28.5","lon":128.541,"lat":35.849},
{"poly":"peak26.5","lon":128.546,"lat":35.956},{"poly":"peak26.5","lon":128.556,"lat":35.967},{"poly":"peak26.5","lon":128.573,"lat":35.964},{"poly":"peak26.5","lon":128.583,"lat":35.949},{"poly":"peak26.5","lon":128.585,"lat":35.934},{"poly":"peak26.5","lon":128.577,"lat":35.926},{"poly":"peak26.5","lon":128.566,"lat":35.931},{"poly":"peak26.5","lon":128.556,"lat":35.939},{"poly":"peak26.5","lon":128.549,"lat":35.947},
{"poly":"peak27","lon":128.551,"lat":35.956},{"poly":"peak27","lon":128.559,"lat":35.964},{"poly":"peak27","lon":128.568,"lat":35.96},{"poly":"peak27","lon":128.573,"lat":35.951},{"poly":"peak27","lon":128.569,"lat":35.941},{"poly":"peak27","lon":128.559,"lat":35.946},{"poly":"peak27","lon":128.553,"lat":35.952},
{"poly":"peak27.5","lon":128.556,"lat":35.958},{"poly":"peak27.5","lon":128.561,"lat":35.961},{"poly":"peak27.5","lon":128.566,"lat":35.956},{"poly":"peak27.5","lon":128.566,"lat":35.951},{"poly":"peak27.5","lon":128.561,"lat":35.951},
{"poly":"lobe27","lon":128.685,"lat":35.874},{"poly":"lobe27","lon":128.693,"lat":35.881},{"poly":"lobe27","lon":128.7,"lat":35.889},{"poly":"lobe27","lon":128.714,"lat":35.892},{"poly":"lobe27","lon":128.724,"lat":35.888},{"poly":"lobe27","lon":128.722,"lat":35.881},{"poly":"lobe27","lon":128.714,"lat":35.874},{"poly":"lobe27","lon":128.707,"lat":35.865},{"poly":"lobe27","lon":128.7,"lat":35.864},{"poly":"lobe27","lon":128.693,"lat":35.867}
],
"panelB":[
{"poly":"base","lon":128.38,"lat":36.018},{"poly":"base","lon":128.81,"lat":36.018},{"poly":"base","lon":128.81,"lat":35.73},{"poly":"base","lon":128.38,"lat":35.73},
{"poly":"ge3","lon":128.381,"lat":36.011},{"poly":"ge3","lon":128.674,"lat":36.011},{"poly":"ge3","lon":128.686,"lat":36},{"poly":"ge3","lon":128.708,"lat":35.992},{"poly":"ge3","lon":128.725,"lat":35.978},{"poly":"ge3","lon":128.735,"lat":35.96},{"poly":"ge3","lon":128.744,"lat":35.931},{"poly":"ge3","lon":128.751,"lat":35.897},{"poly":"ge3","lon":128.754,"lat":35.879},{"poly":"ge3","lon":128.766,"lat":35.856},{"poly":"ge3","lon":128.777,"lat":35.819},{"poly":"ge3","lon":128.795,"lat":35.769},{"poly":"ge3","lon":128.795,"lat":35.737},{"poly":"ge3","lon":128.381,"lat":35.737},
{"poly":"top1","lon":128.567,"lat":36},{"poly":"top1","lon":128.588,"lat":35.997},{"poly":"top1","lon":128.602,"lat":35.999},{"poly":"top1","lon":128.617,"lat":36},{"poly":"top1","lon":128.617,"lat":36.011},{"poly":"top1","lon":128.567,"lat":36.011},
{"poly":"ge5","lon":128.52,"lat":36.011},{"poly":"ge5","lon":128.528,"lat":36},{"poly":"ge5","lon":128.551,"lat":35.988},{"poly":"ge5","lon":128.573,"lat":35.981},{"poly":"ge5","lon":128.593,"lat":35.979},{"poly":"ge5","lon":128.615,"lat":35.981},{"poly":"ge5","lon":128.641,"lat":35.981},{"poly":"ge5","lon":128.67,"lat":35.972},{"poly":"ge5","lon":128.692,"lat":35.956},{"poly":"ge5","lon":128.705,"lat":35.939},{"poly":"ge5","lon":128.716,"lat":35.913},{"poly":"ge5","lon":128.721,"lat":35.889},{"poly":"ge5","lon":128.732,"lat":35.872},{"poly":"ge5","lon":128.733,"lat":35.86},{"poly":"ge5","lon":128.725,"lat":35.836},{"poly":"ge5","lon":128.721,"lat":35.813},{"poly":"ge5","lon":128.715,"lat":35.792},{"poly":"ge5","lon":128.703,"lat":35.75},{"poly":"ge5","lon":128.699,"lat":35.737},{"poly":"ge5","lon":128.381,"lat":35.737},{"poly":"ge5","lon":128.381,"lat":36.011},
{"poly":"ge6","lon":128.501,"lat":36.011},{"poly":"ge6","lon":128.509,"lat":36},{"poly":"ge6","lon":128.544,"lat":35.981},{"poly":"ge6","lon":128.564,"lat":35.972},{"poly":"ge6","lon":128.593,"lat":35.971},{"poly":"ge6","lon":128.624,"lat":35.971},{"poly":"ge6","lon":128.647,"lat":35.965},{"poly":"ge6","lon":128.67,"lat":35.951},{"poly":"ge6","lon":128.689,"lat":35.931},{"poly":"ge6","lon":128.705,"lat":35.906},{"poly":"ge6","lon":128.718,"lat":35.884},{"poly":"ge6","lon":128.725,"lat":35.865},{"poly":"ge6","lon":128.725,"lat":35.851},{"poly":"ge6","lon":128.71,"lat":35.839},{"poly":"ge6","lon":128.706,"lat":35.824},{"poly":"ge6","lon":128.699,"lat":35.808},{"poly":"ge6","lon":128.679,"lat":35.792},{"poly":"ge6","lon":128.663,"lat":35.779},{"poly":"ge6","lon":128.653,"lat":35.765},{"poly":"ge6","lon":128.652,"lat":35.75},{"poly":"ge6","lon":128.652,"lat":35.737},{"poly":"ge6","lon":128.381,"lat":35.737},{"poly":"ge6","lon":128.381,"lat":36.011},
{"poly":"ge7","lon":128.472,"lat":36.011},{"poly":"ge7","lon":128.482,"lat":36},{"poly":"ge7","lon":128.532,"lat":35.977},{"poly":"ge7","lon":128.557,"lat":35.966},{"poly":"ge7","lon":128.593,"lat":35.964},{"poly":"ge7","lon":128.624,"lat":35.963},{"poly":"ge7","lon":128.65,"lat":35.953},{"poly":"ge7","lon":128.676,"lat":35.931},{"poly":"ge7","lon":128.696,"lat":35.908},{"poly":"ge7","lon":128.711,"lat":35.884},{"poly":"ge7","lon":128.718,"lat":35.867},{"poly":"ge7","lon":128.716,"lat":35.856},{"poly":"ge7","lon":128.705,"lat":35.844},{"poly":"ge7","lon":128.692,"lat":35.824},{"poly":"ge7","lon":128.673,"lat":35.813},{"poly":"ge7","lon":128.657,"lat":35.817},{"poly":"ge7","lon":128.644,"lat":35.826},{"poly":"ge7","lon":128.636,"lat":35.834},{"poly":"ge7","lon":128.633,"lat":35.831},{"poly":"ge7","lon":128.633,"lat":35.81},{"poly":"ge7","lon":128.619,"lat":35.796},{"poly":"ge7","lon":128.61,"lat":35.777},{"poly":"ge7","lon":128.609,"lat":35.75},{"poly":"ge7","lon":128.609,"lat":35.737},{"poly":"ge7","lon":128.381,"lat":35.737},{"poly":"ge7","lon":128.381,"lat":36.011},
{"poly":"ge9","lon":128.381,"lat":35.994},{"poly":"ge9","lon":128.4,"lat":35.99},{"poly":"ge9","lon":128.439,"lat":35.978},{"poly":"ge9","lon":128.487,"lat":35.965},{"poly":"ge9","lon":128.532,"lat":35.956},{"poly":"ge9","lon":128.561,"lat":35.951},{"poly":"ge9","lon":128.593,"lat":35.949},{"poly":"ge9","lon":128.615,"lat":35.946},{"poly":"ge9","lon":128.638,"lat":35.938},{"poly":"ge9","lon":128.66,"lat":35.917},{"poly":"ge9","lon":128.679,"lat":35.903},{"poly":"ge9","lon":128.696,"lat":35.889},{"poly":"ge9","lon":128.711,"lat":35.874},{"poly":"ge9","lon":128.715,"lat":35.863},{"poly":"ge9","lon":128.723,"lat":35.859},{"poly":"ge9","lon":128.725,"lat":35.856},{"poly":"ge9","lon":128.716,"lat":35.851},{"poly":"ge9","lon":128.705,"lat":35.849},{"poly":"ge9","lon":128.689,"lat":35.846},{"poly":"ge9","lon":128.679,"lat":35.839},{"poly":"ge9","lon":128.663,"lat":35.834},{"poly":"ge9","lon":128.647,"lat":35.84},{"poly":"ge9","lon":128.636,"lat":35.842},{"poly":"ge9","lon":128.624,"lat":35.833},{"poly":"ge9","lon":128.619,"lat":35.824},{"poly":"ge9","lon":128.61,"lat":35.829},{"poly":"ge9","lon":128.602,"lat":35.829},{"poly":"ge9","lon":128.593,"lat":35.826},{"poly":"ge9","lon":128.573,"lat":35.81},{"poly":"ge9","lon":128.561,"lat":35.796},{"poly":"ge9","lon":128.556,"lat":35.767},{"poly":"ge9","lon":128.554,"lat":35.75},{"poly":"ge9","lon":128.554,"lat":35.737},{"poly":"ge9","lon":128.381,"lat":35.737},
{"poly":"ge10","lon":128.381,"lat":35.966},{"poly":"ge10","lon":128.4,"lat":35.965},{"poly":"ge10","lon":128.441,"lat":35.96},{"poly":"ge10","lon":128.487,"lat":35.954},{"poly":"ge10","lon":128.535,"lat":35.947},{"poly":"ge10","lon":128.567,"lat":35.944},{"poly":"ge10","lon":128.593,"lat":35.942},{"poly":"ge10","lon":128.612,"lat":35.94},{"poly":"ge10","lon":128.628,"lat":35.933},{"poly":"ge10","lon":128.641,"lat":35.924},{"poly":"ge10","lon":128.657,"lat":35.906},{"poly":"ge10","lon":128.67,"lat":35.891},{"poly":"ge10","lon":128.692,"lat":35.886},{"poly":"ge10","lon":128.705,"lat":35.879},{"poly":"ge10","lon":128.71,"lat":35.872},{"poly":"ge10","lon":128.711,"lat":35.863},{"poly":"ge10","lon":128.708,"lat":35.856},{"poly":"ge10","lon":128.689,"lat":35.853},{"poly":"ge10","lon":128.673,"lat":35.844},{"poly":"ge10","lon":128.66,"lat":35.84},{"poly":"ge10","lon":128.644,"lat":35.842},{"poly":"ge10","lon":128.629,"lat":35.844},{"poly":"ge10","lon":128.623,"lat":35.831},{"poly":"ge10","lon":128.615,"lat":35.831},{"poly":"ge10","lon":128.607,"lat":35.831},{"poly":"ge10","lon":128.595,"lat":35.826},{"poly":"ge10","lon":128.583,"lat":35.819},{"poly":"ge10","lon":128.573,"lat":35.814},{"poly":"ge10","lon":128.547,"lat":35.806},{"poly":"ge10","lon":128.533,"lat":35.75},{"poly":"ge10","lon":128.53,"lat":35.737},{"poly":"ge10","lon":128.381,"lat":35.737},
{"poly":"ge13","lon":128.381,"lat":35.851},{"poly":"ge13","lon":128.4,"lat":35.861},{"poly":"ge13","lon":128.417,"lat":35.876},{"poly":"ge13","lon":128.439,"lat":35.894},{"poly":"ge13","lon":128.47,"lat":35.906},{"poly":"ge13","lon":128.499,"lat":35.908},{"poly":"ge13","lon":128.525,"lat":35.92},{"poly":"ge13","lon":128.544,"lat":35.924},{"poly":"ge13","lon":128.573,"lat":35.921},{"poly":"ge13","lon":128.593,"lat":35.919},{"poly":"ge13","lon":128.609,"lat":35.916},{"poly":"ge13","lon":128.624,"lat":35.906},{"poly":"ge13","lon":128.634,"lat":35.891},{"poly":"ge13","lon":128.634,"lat":35.879},{"poly":"ge13","lon":128.631,"lat":35.867},{"poly":"ge13","lon":128.624,"lat":35.858},{"poly":"ge13","lon":128.61,"lat":35.847},{"poly":"ge13","lon":128.59,"lat":35.844},{"poly":"ge13","lon":128.564,"lat":35.838},{"poly":"ge13","lon":128.557,"lat":35.834},{"poly":"ge13","lon":128.547,"lat":35.822},{"poly":"ge13","lon":128.535,"lat":35.814},{"poly":"ge13","lon":128.516,"lat":35.807},{"poly":"ge13","lon":128.496,"lat":35.803},{"poly":"ge13","lon":128.477,"lat":35.797},{"poly":"ge13","lon":128.455,"lat":35.787},{"poly":"ge13","lon":128.439,"lat":35.77},{"poly":"ge13","lon":128.431,"lat":35.751},{"poly":"ge13","lon":128.429,"lat":35.737},{"poly":"ge13","lon":128.381,"lat":35.737},
{"poly":"red west","lon":128.514,"lat":35.879},{"poly":"red west","lon":128.522,"lat":35.889},{"poly":"red west","lon":128.532,"lat":35.886},{"poly":"red west","lon":128.544,"lat":35.881},{"poly":"red west","lon":128.554,"lat":35.865},{"poly":"red west","lon":128.551,"lat":35.856},{"poly":"red west","lon":128.544,"lat":35.847},{"poly":"red west","lon":128.532,"lat":35.849},{"poly":"red west","lon":128.518,"lat":35.865},
{"poly":"ring west","lon":128.533,"lat":35.871},{"poly":"ring west","lon":128.539,"lat":35.866},{"poly":"ring west","lon":128.533,"lat":35.861},{"poly":"ring west","lon":128.527,"lat":35.866},
{"poly":"core west","lon":128.533,"lat":35.87},{"poly":"core west","lon":128.537,"lat":35.866},{"poly":"core west","lon":128.533,"lat":35.862},{"poly":"core west","lon":128.528,"lat":35.866},
{"poly":"ring east","lon":128.648,"lat":35.866},{"poly":"ring east","lon":128.652,"lat":35.874},{"poly":"ring east","lon":128.662,"lat":35.879},{"poly":"ring east","lon":128.67,"lat":35.872},{"poly":"ring east","lon":128.672,"lat":35.866},{"poly":"ring east","lon":128.663,"lat":35.858},{"poly":"ring east","lon":128.658,"lat":35.852},{"poly":"ring east","lon":128.65,"lat":35.858},
{"poly":"core east","lon":128.65,"lat":35.867},{"poly":"core east","lon":128.656,"lat":35.87},{"poly":"core east","lon":128.661,"lat":35.866},{"poly":"core east","lon":128.657,"lat":35.86},{"poly":"core east","lon":128.652,"lat":35.862},
{"poly":"ge15","lon":128.54,"lat":35.899},{"poly":"ge15","lon":128.547,"lat":35.908},{"poly":"ge15","lon":128.561,"lat":35.906},{"poly":"ge15","lon":128.583,"lat":35.899},{"poly":"ge15","lon":128.595,"lat":35.899},{"poly":"ge15","lon":128.612,"lat":35.896},{"poly":"ge15","lon":128.624,"lat":35.886},{"poly":"ge15","lon":128.621,"lat":35.872},{"poly":"ge15","lon":128.615,"lat":35.863},{"poly":"ge15","lon":128.602,"lat":35.854},{"poly":"ge15","lon":128.583,"lat":35.852},{"poly":"ge15","lon":128.573,"lat":35.852},{"poly":"ge15","lon":128.569,"lat":35.858},{"poly":"ge15","lon":128.566,"lat":35.87},{"poly":"ge15","lon":128.564,"lat":35.879},{"poly":"ge15","lon":128.561,"lat":35.884},{"poly":"ge15","lon":128.547,"lat":35.894},
{"poly":"ge16","lon":128.576,"lat":35.883},{"poly":"ge16","lon":128.588,"lat":35.887},{"poly":"ge16","lon":128.602,"lat":35.887},{"poly":"ge16","lon":128.614,"lat":35.881},{"poly":"ge16","lon":128.615,"lat":35.874},{"poly":"ge16","lon":128.61,"lat":35.866},{"poly":"ge16","lon":128.599,"lat":35.858},{"poly":"ge16","lon":128.583,"lat":35.856},{"poly":"ge16","lon":128.575,"lat":35.861},{"poly":"ge16","lon":128.573,"lat":35.872},
{"poly":"ge15 west","lon":128.484,"lat":35.863},{"poly":"ge15 west","lon":128.49,"lat":35.869},{"poly":"ge15 west","lon":128.499,"lat":35.867},{"poly":"ge15 west","lon":128.506,"lat":35.859},{"poly":"ge15 west","lon":128.516,"lat":35.849},{"poly":"ge15 west","lon":128.514,"lat":35.844},{"poly":"ge15 west","lon":128.503,"lat":35.846},{"poly":"ge15 west","lon":128.49,"lat":35.851}
]
}}
